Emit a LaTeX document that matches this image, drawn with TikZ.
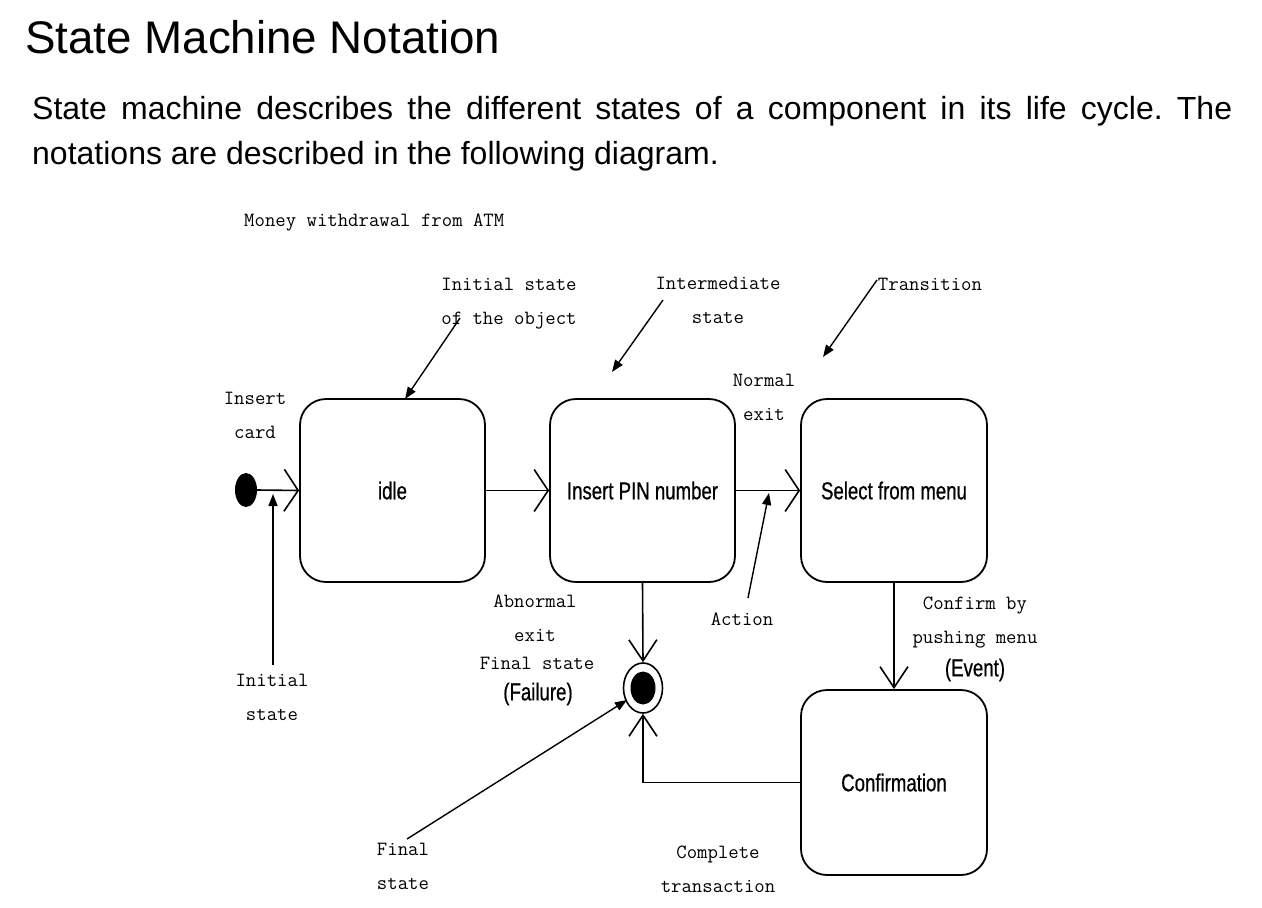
\documentclass[tikz,border=0pt]{standalone}
\usepackage{fontspec}
\setmainfont{Liberation Sans}
\newcommand\monof{\ttfamily\addfontfeature{FakeBold=1.2}}
\newfontfamily\narrowf[FakeStretch=0.76,FakeBold=0.6]{Liberation Sans}
\usetikzlibrary{arrows.meta,shapes.geometric}
\begin{document}
\frenchspacing
\begin{tikzpicture}[x=1pt,y=-1pt,
  state/.style={draw, line width=1.8pt, rounded corners=26pt, minimum width=185pt, minimum height=183pt, inner sep=0pt, font=\narrowf\fontsize{24.5}{28}\selectfont},
  note/.style={font=\fontsize{20.2}{34}\monof\selectfont, align=center, inner sep=0pt},
  narrowlab/.style={font=\narrowf\fontsize{24.5}{28}\selectfont, inner sep=0pt},
  openh/.style={line width=1.6pt, -{Straight Barb[length=14pt,width=42pt]}},
  openv/.style={line width=1.6pt, -{Straight Barb[length=21pt,width=28pt]}},
  pointer/.style={line width=1.4pt, -{Triangle[length=12pt,width=9pt]}}
]
\useasboundingbox[fill=white] (0,0) rectangle (1262,908);

% heading and description
\node[anchor=base west, inner sep=0pt, font=\fontsize{45.7}{50}\selectfont] (title) at (25,53) {State Machine Notation};
\node[anchor=north west, inner sep=0pt, text width=1200pt, align=justify, font=\fontsize{32}{45}\selectfont] (desc) at (32,96)
  {State machine describes the different states of a component in its life cycle. The\linebreak notations are described in the following diagram.};

% states
\node[state] (idle) at (392.5,490.5) {idle};
\node[state] (pin) at (642.5,490.5) {Insert PIN number};
\node[state, minimum width=186pt] (menu) at (894,490.5) {Select from menu};
\node[state, minimum width=186pt, minimum height=185pt] (conf) at (894,782.5) {Confirmation};

% initial and final pseudo states
\node[ellipse, fill=black, minimum width=22pt, minimum height=34pt, inner sep=0pt] (init) at (246,490) {};
\node[ellipse, draw, line width=1.6pt, minimum width=39pt, minimum height=50pt, inner sep=0pt] (fin) at (643,688) {};
\node[ellipse, fill=black, minimum width=25pt, minimum height=33pt, inner sep=0pt] (findot) at (643,688) {};

% transitions
\draw[openh] (init.east) -- (idle.west);
\draw[openh] (idle.east) -- (pin.west);
\draw[openh] (pin.east) -- (menu.west);
\draw[openv] (menu.south) -- (conf.north);
\draw[openv] (pin.south) -- (fin.north);
\draw[openv] (conf.west) -| (fin.south);

% labels
\node[note, anchor=west] (money) at (244,222) {Money withdrawal from ATM};
\node[note] (initobj) at (509,304) {Initial state\\of the object};
\node[note] (inter) at (718,300) {Intermediate\\state};
\node[note] (trans) at (930,284) {Transition};
\node[note] (normal) at (764,397) {Normal\\exit};
\node[note] (card) at (255,415) {Insert\\card};
\node[note] (abn) at (535,618) {Abnormal\\exit};
\node[note] (finlab) at (537,663) {Final state};
\node[narrowlab] (fail) at (538,694) {(Failure)};
\node[note] (action) at (742,619) {Action};
\node[note] (confirmby) at (975,623) {Confirm by\\pushing menu};
\node[narrowlab] (event) at (975,670) {(Event)};
\node[note] (initlab) at (272,697) {Initial\\state};
\node[note] (finallab) at (403,866) {Final\\state};
\node[note] (complete) at (718,869) {Complete\\transaction};

% annotation pointers
\coordinate (p1s) at (460,318); \coordinate (p1e) at (405,399);
\coordinate (p2s) at (663,300); \coordinate (p2e) at (612,372);
\coordinate (p3s) at (877,280); \coordinate (p3e) at (823,357);
\coordinate (p4s) at (748,598); \coordinate (p4e) at (769,493);
\coordinate (p5s) at (273,665); \coordinate (p5e) at (273,494);
\coordinate (p6s) at (407,839); \coordinate (p6e) at (627,700);
\draw[pointer] (p1s) -- (p1e);
\draw[pointer] (p2s) -- (p2e);
\draw[pointer] (p3s) -- (p3e);
\draw[pointer] (p4s) -- (p4e);
\draw[pointer] (p5s) -- (p5e);
\draw[pointer] (p6s) -- (p6e);
\end{tikzpicture}
\end{document}
